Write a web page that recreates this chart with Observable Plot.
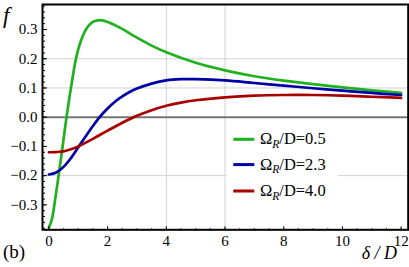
<!DOCTYPE html>
<html><head><meta charset="utf-8">
<script src="https://cdn.jsdelivr.net/npm/d3@7"></script>
<script src="https://cdn.jsdelivr.net/npm/@observablehq/plot@0.6"></script>
<style>body{margin:0;background:#fff} #chart{position:relative;width:409px;height:267px}</style>
</head><body><div id="chart"></div>
<script>
// Series: Omega_R/D = 0.5 (green)
const deltaA = [0, 0.1, 0.2, 0.3, 0.4, 0.5, 0.6, 0.7, 0.8, 0.9, 1.0, 1.1, 1.2, 1.3, 1.4, 1.5, 1.6, 1.75, 2.0, 2.5, 3.0, 3.5, 4.0, 5.0, 6.0, 7.0, 8.0, 9.0, 10.0, 11.0, 12.0];
const fA = [-0.377, -0.35, -0.29, -0.222, -0.15, -0.075, 0.0, 0.068, 0.13, 0.19, 0.232, 0.264, 0.288, 0.306, 0.318, 0.326, 0.330, 0.332, 0.326, 0.302, 0.272, 0.245, 0.222, 0.186, 0.16, 0.14, 0.125, 0.113, 0.102, 0.092, 0.083];
// Series: Omega_R/D = 2.3 (blue)
const deltaB = [0, 0.25, 0.5, 0.75, 1.0, 1.25, 1.5, 1.75, 2.0, 2.25, 2.5, 2.75, 3.0, 3.5, 4.0, 4.5, 5.0, 6.0, 7.0, 8.0, 9.0, 10.0, 11.0, 12.0];
const fB = [-0.196, -0.189, -0.170, -0.140, -0.103, -0.066, -0.030, 0.003, 0.030, 0.053, 0.071, 0.086, 0.098, 0.115, 0.126, 0.130, 0.130, 0.126, 0.117, 0.108, 0.099, 0.091, 0.083, 0.076];
// Series: Omega_R/D = 4.0 (red)
const deltaC = [0, 0.25, 0.5, 0.75, 1.0, 1.5, 2.0, 2.5, 3.0, 3.5, 4.0, 4.5, 5.0, 6.0, 7.0, 8.0, 9.0, 10.0, 11.0, 12.0];
const fC = [-0.120, -0.1193, -0.117, -0.110, -0.100, -0.074, -0.046, -0.019, 0.005, 0.024, 0.039, 0.050, 0.058, 0.068, 0.074, 0.076, 0.076, 0.074, 0.070, 0.066];

const seriesValues = ["0.5", "2.3", "4.0"];
const seriesColors = ["#1fb11f", "#0000a8", "#a80000"];
const xTicks = [0, 2, 4, 6, 8, 10, 12];
const yTicks = [-0.3, -0.2, -0.1, 0, 0.1, 0.2, 0.3];
const xGrid = [4, 6];
const yGrid = [-0.2, 0.1, 0.2];

const rows = [];
[[deltaA, fA], [deltaB, fB], [deltaC, fC]].forEach(([xs, ys], k) => {
  xs.forEach((d, i) => rows.push({delta: d, f: ys[i], series: seriesValues[k]}));
});
const xMinor = d3.range(0, 25).map(i => i * 0.5);
const yMinor = d3.range(-19, 20).map(i => +(i * 0.02).toFixed(2));

const FONT = "'Liberation Serif', 'Times New Roman', 'DejaVu Serif', serif";
const svgNode = Plot.plot({
  width: 409, height: 267,
  marginLeft: 42, marginRight: 1.3, marginTop: 4, marginBottom: 37.7,
  x: {domain: [-0.218, 12.24], label: null},
  y: {domain: [-0.3853, 0.3856], label: null},
  color: {domain: seriesValues, range: seriesColors},
  style: {fontFamily: FONT, fontSize: "15px", background: "white", color: "black"},
  marks: [
    Plot.ruleX(xGrid, {stroke: "#d2d2d2", strokeWidth: 1}),
    Plot.ruleY(yGrid, {stroke: "#d2d2d2", strokeWidth: 1}),
    Plot.ruleY([0], {stroke: "#747474", strokeWidth: 2}),
    Plot.line(rows, {x: "delta", y: "f", z: "series", stroke: "series", curve: "catmull-rom", strokeWidth: 2.7}),
    Plot.axisX(xMinor, {anchor: "top", frameAnchor: "bottom", tickSize: 2, tickFormat: () => "", label: null}),
    Plot.axisX(xTicks, {anchor: "top", frameAnchor: "bottom", tickSize: 4, tickFormat: () => "", label: null}),
    Plot.axisX(xTicks, {anchor: "bottom", tickSize: 0, tickPadding: 6, tickFormat: d => String(d), label: null, fontSize: 15}),
    Plot.axisY(yMinor, {anchor: "right", frameAnchor: "left", tickSize: 2, tickFormat: () => "", label: null}),
    Plot.axisY(yTicks, {anchor: "right", frameAnchor: "left", tickSize: 4, tickFormat: () => "", label: null}),
    Plot.axisY(yTicks, {anchor: "left", tickSize: 0, tickPadding: 5, tickFormat: d3.format(".1f"), label: null, fontSize: 15}),
    Plot.frame({stroke: "black", strokeWidth: 2})
  ]
});
document.getElementById("chart").appendChild(svgNode);

const svg = d3.select(svgNode);
// force the serif family on every text of the axes
svg.selectAll("text").style("font-family", FONT).style("font-variant", "normal");

function addText(x, y, size, italic, anchor, str) {
  return svg.append("text").attr("x", x).attr("y", y).attr("text-anchor", anchor)
    .style("font-family", FONT).style("font-style", italic ? "italic" : "normal")
    .style("font-size", size + "px").attr("fill", "black").text(str);
}
// Axis titles and panel tag
addText(3, 23, 23, true, "start", "f");
addText(397, 259, 18, true, "end", "δ / D");
addText(3, 258, 19, false, "start", "(b)");

// Legend
const lg = svg.append("g");
lg.append("rect").attr("x", 227).attr("y", 127).attr("width", 111).attr("height", 74).attr("fill", "white");
const rowY = [139.3, 164.6, 191];
seriesValues.forEach((v, i) => {
  lg.append("line").attr("x1", 233.3).attr("x2", 254.3).attr("y1", rowY[i]).attr("y2", rowY[i])
    .attr("stroke", seriesColors[i]).attr("stroke-width", 3);
  const t = lg.append("text").attr("x", 260).attr("y", rowY[i] + 5).attr("text-anchor", "start")
    .style("font-family", FONT).style("font-size", "16.5px").attr("fill", "black");
  t.append("tspan").text("Ω");
  t.append("tspan").style("font-style", "italic").style("font-size", "11.5px").attr("dy", 3.5).text("R");
  t.append("tspan").attr("dy", -3.5).text("/D=" + v);
});
</script></body></html>
